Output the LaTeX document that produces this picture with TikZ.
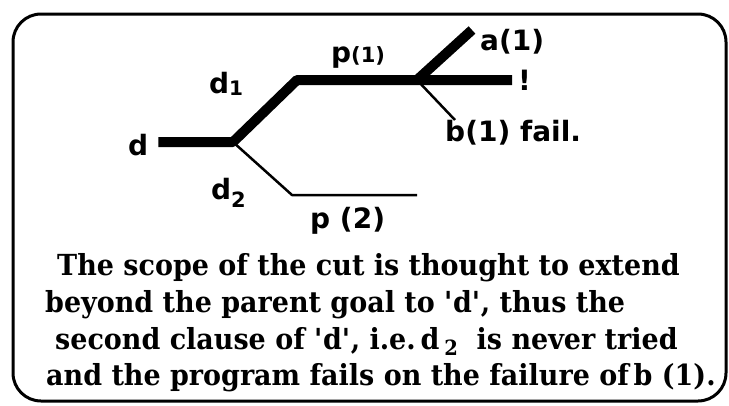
\documentclass[tikz,border=0pt]{standalone}
\usepackage{fontspec}
\setmainfont{DejaVu Serif}[BoldFeatures={FakeStretch=0.93}]
\setsansfont{DejaVu Sans}
\usetikzlibrary{positioning}

\begin{document}
\begin{tikzpicture}[x=1pt, y=-1pt,
    lbl/.style={font=\sffamily\bfseries\fontsize{28}{28}\selectfont, inner sep=0pt},
    note/.style={font=\bfseries\fontsize{29}{29}\selectfont, anchor=base west, inner sep=0pt},
    goal/.style={line width=10pt},
    alt/.style={line width=2.5pt}]
  \useasboundingbox (0,0) rectangle (729,405);
  \draw[line width=3pt, rounded corners=28pt] (13,14) rectangle (726,401);

  % search tree
  \node[lbl, anchor=base west] (d) at (128,155) {d};
  \coordinate (A) at (233,142);
  \coordinate (K1) at (297,80);
  \coordinate (B) at (417,80);
  \coordinate (C) at (512,80);
  \coordinate (Ea) at (472,30);
  \coordinate (Eb) at (455,120);
  \coordinate (K2) at (292,195);
  \coordinate (E2) at (417,195);
  \draw[goal, line join=round, shorten <=10pt] (d.east |- A) -- (A) -- (K1) -- (C);
  \draw[goal] (B) -- (Ea);
  \draw[alt] (B) -- (Eb);
  \draw[alt, line join=round] (A) -- (K2) -- (E2);

  \node[lbl, anchor=base west] (d1) at (209,93) {d\raisebox{-2pt}{\fontsize{20}{20}\selectfont 1}};
  \node[lbl, anchor=base west] (d2) at (211,199) {d\raisebox{-8pt}{\fontsize{21}{21}\selectfont 2}};
  \node[lbl, anchor=base west] (p1) at (331,62) {p{\fontsize{21}{21}\selectfont(1)}};
  \node[lbl, anchor=base west] (a1) at (480,50) {a(1)};
  \node[lbl, right=6pt of C] (cut) {!};
  \node[lbl, anchor=base west] (b1) at (445,141) {b(1) fail.};
  \node[lbl, anchor=base west] (p2) at (310,228) {p (2)};

  % explanation
  \node[note] (l1) at (57,275) {The scope of the cut is thought to extend};
  \node[note] (l2) at (45,312) {beyond the parent goal to \textquotesingle d\textquotesingle, thus the};
  \node[note] (l3) at (55,349) {second clause of \textquotesingle d\textquotesingle, i.e.\,d\,\raisebox{-6pt}{\fontsize{21}{21}\selectfont 2}\ \ is never tried};
  \node[note] (l4) at (46,385) {and the program fails on the failure of\,b (1).};
\end{tikzpicture}
\end{document}
